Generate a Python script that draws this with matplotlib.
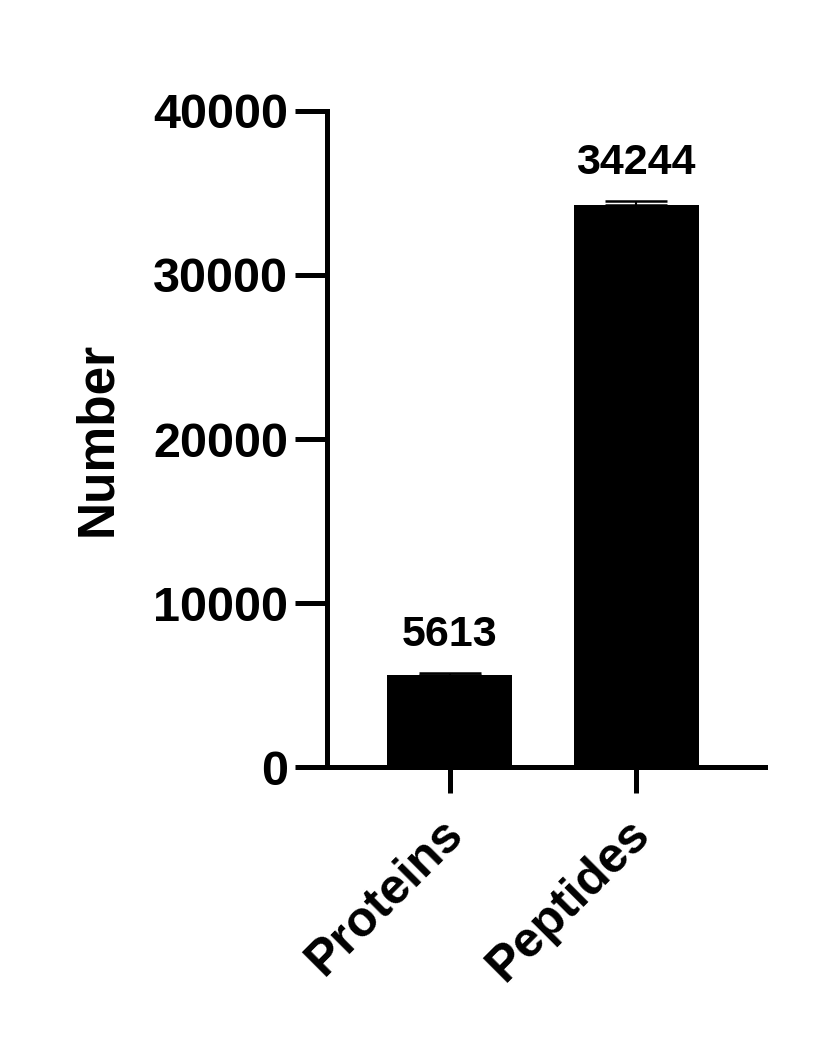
import matplotlib.pyplot as plt
import matplotlib.transforms as mtransforms
import numpy as np

plt.rcParams['font.family'] = ['Liberation Sans', 'DejaVu Sans']
plt.rcParams['font.weight'] = 'bold'

# Data
categories = ['Proteins', 'Peptides']
values = [5613, 34244]
errors = [110, 250]
bar_labels = ['5613', '34244']
y_ticks = [0, 10000, 20000, 30000, 40000]

fig = plt.figure(figsize=(8.14, 10.49), dpi=100)
ax = fig.add_axes([0.4017, 0.2688, 0.5383, 0.6254])

x = np.arange(len(categories))
ax.bar(x, values, width=0.672, color='black', zorder=2)
ax.errorbar(x, values, yerr=[[0, 0], errors], fmt='none', ecolor='black',
            elinewidth=1.5, capsize=22, capthick=1.8, zorder=1)

for xi, v, e, lab in zip(x, values, errors, bar_labels):
    ax.annotate(lab, (xi, v + e), xytext=(0, 18), textcoords='offset pixels',
                ha='center', va='bottom', fontsize=31, fontweight='bold')

ax.set_xlim(-0.661, 1.694)
ax.set_ylim(0, 40000)
ax.set_yticks(y_ticks)
ax.set_yticklabels([str(t) for t in y_ticks], fontsize=35, fontweight='bold')
ax.set_xticks(x)
ax.set_xticklabels(categories, fontsize=36, fontweight='bold',
                   rotation=45, ha='right', rotation_mode='anchor')
ax.set_ylabel('Number', fontsize=37, fontweight='bold', labelpad=22)

for s in ['top', 'right']:
    ax.spines[s].set_visible(False)
for s in ['left', 'bottom']:
    ax.spines[s].set_linewidth(3.6)
ax.tick_params(axis='y', length=23, width=3.6, pad=5)
ax.tick_params(axis='x', length=19, width=3.6, pad=12)

# nudge rotated labels left a little
offset = mtransforms.ScaledTranslation(-10 / 100, 0, fig.dpi_scale_trans)
for lbl in ax.get_xticklabels():
    lbl.set_transform(lbl.get_transform() + offset)

fig.savefig('out.png', dpi=100)
